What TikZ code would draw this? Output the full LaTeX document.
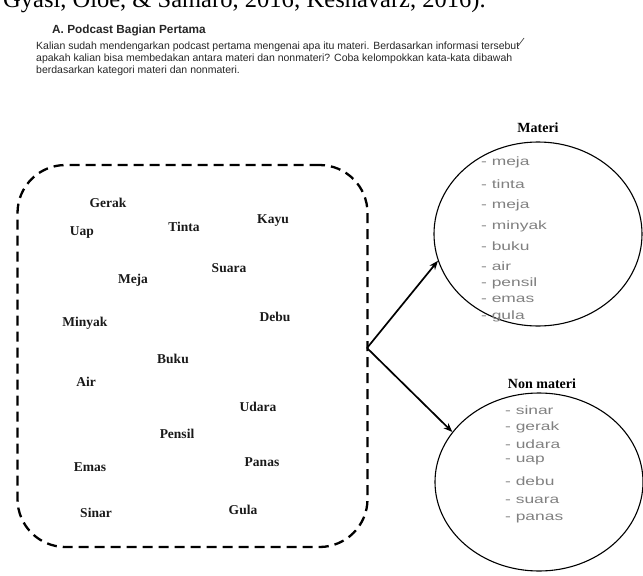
\documentclass[tikz,border=0pt]{standalone}
\usepackage{fontspec}
\usepackage{graphicx}
\setmainfont{Liberation Serif}
\setsansfont{Liberation Sans}
\usetikzlibrary{shapes.geometric,arrows.meta}
\newcommand{\hw}[1]{\scalebox{1.45}[1]{#1}}
\begin{document}
\begin{tikzpicture}[x=1pt,y=-1pt,
  word/.style={font=\rmfamily\bfseries\fontsize{13.5}{15}\selectfont, inner sep=0pt, text=black!90},
  para/.style={font=\sffamily\fontsize{10.5}{12}\selectfont, anchor=west, inner sep=0pt, text=black!85},
  hand/.style={font=\sffamily\fontsize{12}{13}\selectfont, anchor=west, inner sep=0pt, text=black!50},
  catlabel/.style={font=\rmfamily\bfseries\fontsize{14}{16}\selectfont, inner sep=0pt},
  group/.style={ellipse, draw, line width=1.1pt, inner sep=0pt},
  arr/.style={line width=1.7pt, -{Stealth[length=9pt,width=7pt]}},
  dashbox/.style={draw, line width=2.3pt, dash pattern=on 10pt off 6pt, rounded corners=48pt}
]
\useasboundingbox (0,0) rectangle (643,576);
% cropped line at top
\node[anchor=base west, inner sep=0pt, font=\rmfamily\fontsize{24.5}{26}\selectfont] (cite) at (3,7) {Gyasi, Oloe, \& Samaro, 2016; Keshavarz, 2016).};
% heading and instructions
\node[anchor=west, inner sep=0pt, font=\sffamily\bfseries\fontsize{11.8}{13}\selectfont, text=black!85] (head) at (52,30) {A. Podcast Bagian Pertama};
\node[para] (p1) at (36,47) {Kalian sudah mendengarkan podcast pertama mengenai apa itu materi. Berdasarkan informasi tersebut};
\node[para] (p2) at (36,59) {apakah kalian bisa membedakan antara materi dan nonmateri? Coba kelompokkan kata-kata dibawah};
\node[para] (p3) at (36,71) {berdasarkan kategori materi dan nonmateri.};
\coordinate (tk1) at (518,46);
\coordinate (tk2) at (524,38);
\draw[line width=0.7pt, black!70] (tk1) -- (tk2);
% dashed box
\node[dashbox, minimum width=350pt, minimum height=382pt] (box) at (192.5,356) {};
% words
\node[word] (gerak) at (108,203) {Gerak};
\node[word] (uap) at (82,233) {Uap};
\node[word] (tinta) at (184,227) {Tinta};
\node[word] (kayu) at (273,221) {Kayu};
\node[word] (suara) at (229,268) {Suara};
\node[word] (meja) at (133,280) {Meja};
\node[word] (minyak) at (85,323) {Minyak};
\node[word] (debu) at (275,317) {Debu};
\node[word] (buku) at (173,359) {Buku};
\node[word] (air) at (86,382) {Air};
\node[word] (udara) at (258,407) {Udara};
\node[word] (pensil) at (177,434) {Pensil};
\node[word] (emas) at (90,467) {Emas};
\node[word] (panas) at (262,462) {Panas};
\node[word] (sinar) at (96,513) {Sinar};
\node[word] (gula) at (243,510) {Gula};
% groups
\node[group, minimum width=208pt, minimum height=184pt] (mat) at (538,234) {};
\node[catlabel] (matlab) at (538,128) {Materi};
\node[group, minimum width=208pt, minimum height=178pt] (non) at (539,482) {};
\node[catlabel] (nonlab) at (542,384) {Non materi};
% handwritten lists
\node[hand] (m1) at (481,162) {\hw{- meja}};
\node[hand] (m2) at (481,184) {\hw{- tinta}};
\node[hand] (m3) at (481,205) {\hw{- meja}};
\node[hand] (m4) at (481,226) {\hw{- minyak}};
\node[hand] (m5) at (481,246) {\hw{- buku}};
\node[hand] (m6) at (481,266) {\hw{- air}};
\node[hand] (m7) at (481,283) {\hw{- pensil}};
\node[hand] (m8) at (481,299) {\hw{- emas}};
\node[hand] (m9) at (481,316) {\hw{- gula}};
\node[hand] (n1) at (505,410) {\hw{- sinar}};
\node[hand] (n2) at (505,427) {\hw{- gerak}};
\node[hand] (n3) at (505,444) {\hw{- udara}};
\node[hand] (n4) at (505,461) {\hw{- uap}};
\node[hand] (n5) at (505,481) {\hw{- debu}};
\node[hand] (n6) at (505,500) {\hw{- suara}};
\node[hand] (n7) at (505,519) {\hw{- panas}};
% arrows
\coordinate (src) at (367,348);
\draw[arr] (src) -- (mat.195);
\draw[arr] (src) -- (non.150);
\end{tikzpicture}
\end{document}
